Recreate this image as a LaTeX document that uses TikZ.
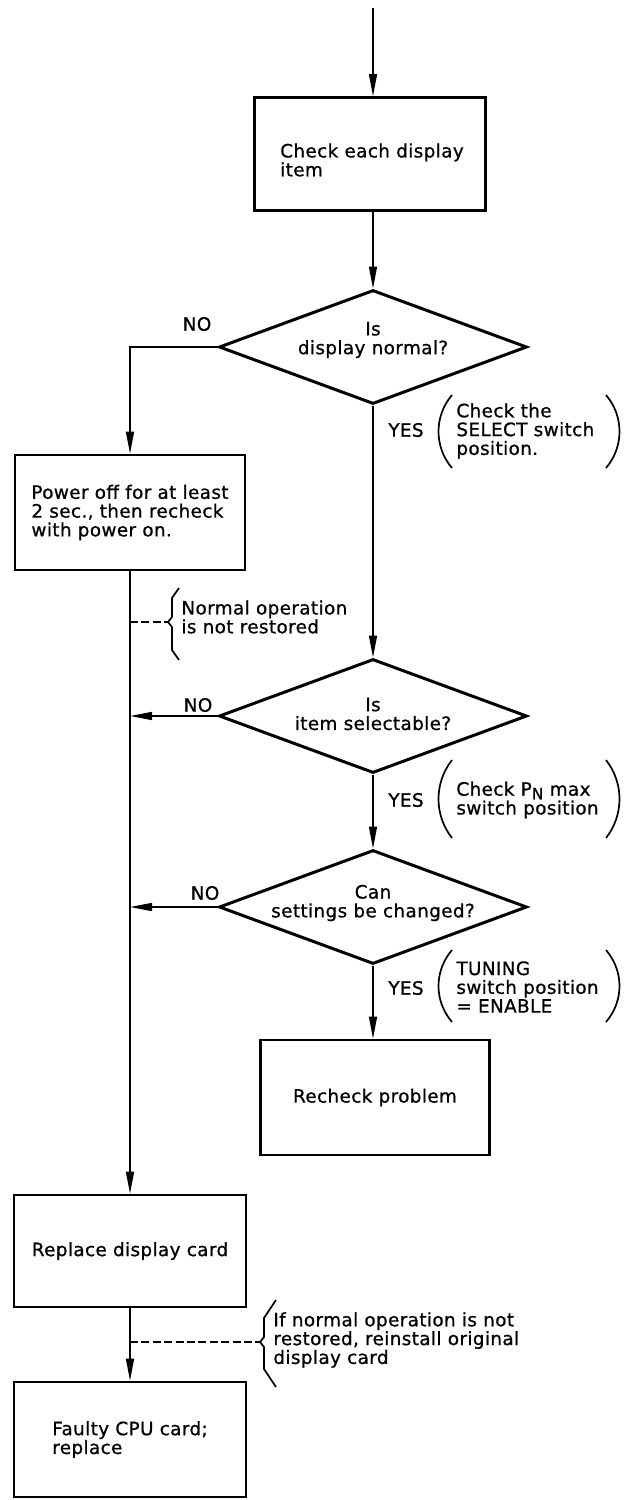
\documentclass[tikz,border=0pt]{standalone}
\usepackage{fontspec}
\setmainfont{DejaVu Sans}[LetterSpace=2,FakeBold=0.8]
\usetikzlibrary{arrows.meta,shapes.geometric}
\begin{document}
\begin{tikzpicture}[x=0.5pt,y=-0.5pt,
  every node/.style={font=\fontsize{9.2}{9.4}\selectfont, inner sep=0pt},
  box/.style={draw, line width=1.4pt, rectangle, align=left},
  dia/.style={draw, line width=1.5pt, diamond, aspect=2.7, minimum width=154pt, minimum height=57pt},
  lbl/.style={align=center},
  note/.style={anchor=west, align=left},
  conn/.style={line width=0.75pt},
  arr/.style={conn, -{Triangle[length=11pt,width=4pt]}},
  paren/.style={line width=0.85pt},
  dashline/.style={conn, dash pattern=on 4pt off 1.7pt}
]
\useasboundingbox (0,0) rectangle (624,1500);
\fill[white] (0,0) rectangle (624,1500);

% process boxes
\node[box, minimum width=115.5pt, minimum height=56.5pt] (b1) at (370,154) {};
\node[align=left] (b1t) at (372,160) {Check each display\\item};
\node[box, minimum width=115pt, minimum height=57.5pt] (b2) at (130,512.5) {Power off for at least\\2 sec., then recheck\\with power on.};
\node[box, minimum width=114.5pt, minimum height=57.5pt] (rc) at (375,1097.5) {Recheck problem};
\node[box, minimum width=116pt, minimum height=56pt] (rp) at (130,1251) {Replace display card};
\node[box, minimum width=116pt, minimum height=57.5pt] (fc) at (130,1439.5) {Faulty CPU card;\\replace};

% decisions
\node[dia] (d1) at (373,347) {};
\node[lbl] (d1t) at (373,340) {Is\\display normal?};
\node[dia] (d2) at (373,716) {};
\node[lbl] (d2t) at (373,714) {Is\\item selectable?};
\node[dia] (d3) at (373,907) {};
\node[lbl] (d3t) at (373,903) {Can\\settings be changed?};

% labels
\node (no1) at (197,324) {NO};
\node (no2) at (198,705) {NO};
\node (no3) at (205,893) {NO};
\node (yes1) at (406,430) {YES};
\node (yes2) at (406,800) {YES};
\node (yes3) at (406,988) {YES};
\node[note] (c1) at (456,431) {Check the\\SELECT switch\\position.};
\node[note] (c2) at (456,800) {Check P\raisebox{-1.8pt}{\fontsize{7.8}{7.8}\selectfont N} max\\switch position};
\node[note] (c3) at (456,987) {TUNING\\switch position\\= ENABLE};
\node[note] (n1) at (181,617) {Normal operation\\is not restored};
\node[note] (n2) at (273,1340) {If normal operation is not\\restored, reinstall original\\display card};

% parentheses
\draw[paren] (452,395) .. controls (434,416) and (434,447) .. (452,468);
\draw[paren] (606,395) .. controls (624,416) and (624,447) .. (606,468);
\draw[paren] (452,760) .. controls (434,783) and (434,815) .. (452,838);
\draw[paren] (606,760) .. controls (624,783) and (624,815) .. (606,838);
\draw[paren] (452,950) .. controls (434,971) and (434,1001) .. (452,1022);
\draw[paren] (606,950) .. controls (624,971) and (624,1001) .. (606,1022);

% braces
\coordinate (br1) at (168,622);
\coordinate (br2) at (260,1342);
\draw[paren] (179,588) -- (172,598) -- (172,617) -- (br1) -- (172,627) -- (172,650) -- (179,660);
\draw[paren] (276,1300) -- (264,1318) -- (264,1337) -- (br2) -- (264,1347) -- (264,1369) -- (276,1387);
\draw[dashline] (br1 -| b2.south) -- (br1);
\draw[dashline] (br2 -| rp.south) -- (br2);

% connectors
\coordinate (start) at (373,8);
\draw[arr] (start) -- (start |- b1.north);
\draw[arr] (d1.north |- b1.south) -- (d1.north);
\draw[arr] (d1.west) -| (b2.north);
\draw[arr] (d1.south) -- (d2.north);
\draw[arr] (d2.south) -- (d3.north);
\draw[arr] (d3.south) -- (d3.south |- rc.north);
\draw[arr] (d2.west) -- (d2.west -| b2.south);
\draw[arr] (d3.west) -- (d3.west -| b2.south);
\draw[arr] (b2.south) -- (rp.north);
\draw[arr] (rp.south) -- (fc.north);
\end{tikzpicture}
\end{document}
